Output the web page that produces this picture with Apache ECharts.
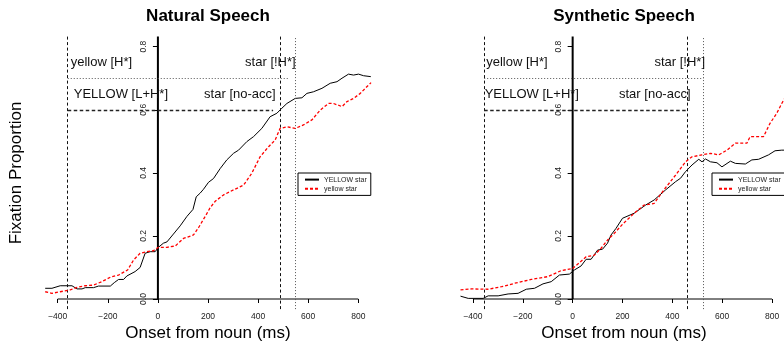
<!DOCTYPE html>
<html>
<head>
<meta charset="utf-8">
<script src="https://cdn.jsdelivr.net/npm/echarts@6/dist/echarts.min.js"></script>
<style>html,body{margin:0;padding:0;background:#fff;}#c{width:784px;height:342px;}</style>
</head>
<body>
<div id="c"></div>
<script>
// ---- data ----
const xTicks = [-400, -200, 0, 200, 400, 600, 800];
const yTicks = [0, 0.2, 0.4, 0.6, 0.8];
const xLim = [-448, 848];
const yLim = [-0.032, 0.832];
const seriesNames = ['YELLOW star', 'yellow star'];
const panelTitles = ['Natural Speech', 'Synthetic Speech'];
const xTitle = 'Onset from noun (ms)';
const yTitle = 'Fixation Proportion';

// Natural speech: YELLOW star (black) / yellow star (red)
const natYELLOW = [[-450,0.034],[-423,0.034],[-390,0.042],[-343,0.042],[-323,0.032],[-303,0.032],[-290,0.036],[-257,0.036],[-237,0.041],[-190,0.041],[-174,0.052],[-157,0.062],[-137,0.062],[-124,0.073],[-91,0.087],[-71,0.100],[-51,0.145],[-31,0.150],[-11,0.150],[2,0.164],[22,0.177],[36,0.181],[62,0.206],[89,0.232],[116,0.262],[140,0.284],[153,0.324],[169,0.336],[182,0.348],[202,0.370],[222,0.382],[249,0.414],[275,0.441],[302,0.462],[322,0.472],[355,0.499],[382,0.515],[415,0.541],[448,0.578],[475,0.589],[495,0.605],[515,0.620],[548,0.636],[575,0.638],[595,0.652],[621,0.657],[655,0.668],[688,0.684],[715,0.689],[735,0.700],[761,0.713],[781,0.710],[801,0.713],[821,0.708],[850,0.705]];
const natYellow = [[-450,0.023],[-423,0.018],[-390,0.023],[-350,0.029],[-323,0.037],[-290,0.042],[-257,0.044],[-224,0.055],[-190,0.069],[-157,0.076],[-121,0.092],[-97,0.124],[-71,0.145],[-44,0.150],[-18,0.153],[2,0.164],[36,0.164],[69,0.168],[102,0.192],[142,0.203],[162,0.226],[189,0.262],[209,0.290],[229,0.310],[262,0.330],[302,0.346],[342,0.361],[375,0.399],[408,0.451],[442,0.483],[468,0.504],[488,0.541],[515,0.546],[548,0.541],[581,0.552],[615,0.568],[648,0.599],[681,0.620],[701,0.620],[735,0.610],[755,0.626],[781,0.636],[808,0.652],[834,0.673],[851,0.686]];

// Synthetic speech
const synYELLOW = [[-450,0.009],[-419,0.002],[-359,0.002],[-339,0.010],[-299,0.010],[-259,0.016],[-219,0.018],[-186,0.031],[-153,0.034],[-119,0.048],[-86,0.055],[-53,0.076],[-13,0.079],[7,0.092],[34,0.105],[54,0.126],[74,0.126],[100,0.155],[120,0.158],[140,0.177],[154,0.203],[174,0.224],[200,0.256],[247,0.272],[293,0.298],[327,0.314],[373,0.346],[413,0.372],[433,0.383],[453,0.404],[479,0.425],[506,0.443],[519,0.435],[533,0.444],[553,0.435],[579,0.432],[599,0.419],[633,0.437],[653,0.430],[693,0.428],[719,0.441],[746,0.443],[786,0.457],[812,0.470],[839,0.472],[850,0.472]];
const synYellow = [[-450,0.029],[-405,0.032],[-339,0.031],[-285,0.039],[-232,0.050],[-166,0.062],[-99,0.071],[-46,0.090],[0,0.097],[27,0.115],[54,0.134],[87,0.139],[114,0.161],[140,0.187],[167,0.208],[200,0.237],[247,0.272],[287,0.298],[327,0.303],[366,0.346],[413,0.393],[453,0.435],[479,0.451],[519,0.457],[553,0.462],[586,0.457],[619,0.472],[653,0.494],[699,0.494],[712,0.515],[766,0.515],[792,0.557],[819,0.589],[839,0.620],[850,0.635]];

// reference lines (ms) and annotation anchors
const natVLines = [-360, 490, 550];
const synVLines = [-355, 460, 525];
const vLineTypes = ['dashed', 'dashed', 'dotted'];
const hLineY = [0.7, 0.6];
const hLineEnd = [525, 460];
const hLineTypes = ['dotted', 'dashed'];
const natLabelText = ['yellow [H*]', 'YELLOW [L+H*]', 'star [!H*]', 'star [no-acc]'];
const natLabelX = [-350, -338, 552, 472];
const synLabelX = [-349, -355, 533, 475];
const labelY = [0.75, 0.65, 0.75, 0.65];
const labelSide = ['left', 'left', 'right', 'right'];

// ---- chart ----
const FONT = '"Liberation Sans", Arial, Helvetica, sans-serif';
const chart = echarts.init(document.getElementById('c'), null, {renderer: 'canvas'});

const gridLefts = [45.7, 461];
const grids = gridLefts.map(l => ({left: l, top: 36.6, width: 324.6, height: 272.5, containLabel: false}));

function fmtX(v) { return v < 0 ? '\u2212' + (-v) : String(v); }

const xAxes = grids.map((g, i) => ({
  type: 'value', gridIndex: i, min: xLim[0], max: xLim[1],
  axisLine: {show: true, onZero: true, lineStyle: {color: '#000', opacity: 0}},
  axisTick: {show: true, customValues: xTicks, length: 4, lineStyle: {color: '#000', width: 1}},
  axisLabel: {show: true, customValues: xTicks, formatter: fmtX, margin: 3, fontSize: 8.5, color: '#222', fontFamily: FONT},
  splitLine: {show: false}
}));
const yAxes = grids.map((g, i) => ({
  type: 'value', gridIndex: i, min: yLim[0], max: yLim[1],
  axisLine: {show: true, onZero: true, lineStyle: {color: '#000', opacity: 0}},
  axisTick: {show: true, customValues: yTicks, length: 5, lineStyle: {color: '#000', width: 1}},
  axisLabel: {show: true, customValues: yTicks, formatter: v => v.toFixed(1), rotate: 90, margin: -102, fontSize: 8.5, color: '#222', fontFamily: FONT},
  splitLine: {show: false}
}));

function dashOf(t) { return t === 'dotted' ? [1, 2] : [3, 2.5]; }

function panelSeries(i, black, red, vLines, labelX) {
  const mlData = [];
  vLines.forEach((v, k) => mlData.push({xAxis: v, lineStyle: {type: dashOf(vLineTypes[k]), color: vLineTypes[k] === 'dotted' ? '#555' : '#111', width: 1}}));
  hLineY.forEach((y, k) => mlData.push([
    {coord: [vLines[0], y], lineStyle: {type: hLineTypes[k] === 'dotted' ? [1, 2] : [3.5, 2.5], color: hLineTypes[k] === 'dotted' ? '#555' : '#222', width: hLineTypes[k] === 'dotted' ? 1 : 1.3}},
    {coord: [hLineEnd[k], y]}
  ]));
  const mpData = natLabelText.map((t, k) => ({
    coord: [labelX[k], labelY[k]], value: t,
    label: {show: true, formatter: t, position: labelSide[k] === 'left' ? 'right' : 'left', distance: 0,
      fontSize: 13, color: '#111', fontFamily: FONT}
  }));
  return [
    { // x axis line spanning first to last tick, with reference lines and annotations
      type: 'line', xAxisIndex: i, yAxisIndex: i, data: [[xTicks[0], 0], [xTicks[xTicks.length - 1], 0]],
      symbol: 'none', silent: true, lineStyle: {color: '#000', width: 1}, z: 3,
      markLine: {symbol: ['none', 'none'], silent: true, animation: false, label: {show: false}, data: mlData},
      markPoint: {symbol: 'circle', symbolSize: 1, itemStyle: {color: 'rgba(0,0,0,0)'}, silent: true, animation: false, data: mpData}
    },
    { // vertical line at onset 0
      type: 'line', xAxisIndex: i, yAxisIndex: i, data: [[0, 0], [0, yLim[1]]],
      symbol: 'none', silent: true, lineStyle: {color: '#000', width: 2}, z: 3
    },
    {
      name: seriesNames[0], type: 'line', xAxisIndex: i, yAxisIndex: i, data: black,
      symbol: 'none', lineStyle: {color: '#000', width: 1}, itemStyle: {color: '#000'}, z: 4
    },
    {
      name: seriesNames[1], type: 'line', xAxisIndex: i, yAxisIndex: i, data: red,
      symbol: 'none', lineStyle: {color: '#ff0000', width: 1.3, type: [3, 2]}, itemStyle: {color: '#ff0000'}, z: 5
    }
  ];
}

const legendBase = {
  orient: 'vertical', top: 173, padding: [3, 4, 3, 6], itemGap: 2, itemWidth: 14, itemHeight: 9,
  borderColor: '#000', borderWidth: 1, backgroundColor: '#fff', selectedMode: false,
  itemStyle: {opacity: 0},
  textStyle: {fontSize: 7, color: '#222', fontFamily: FONT}, data: seriesNames
};

const titleCenters = [208, 624];
const graphics = [];
panelTitles.forEach((t, i) => {
  graphics.push({type: 'text', x: titleCenters[i], y: 16, style: {text: t, font: 'bold 17px ' + FONT, fill: '#000', align: 'center', verticalAlign: 'middle'}});
  graphics.push({type: 'text', x: titleCenters[i], y: 333, style: {text: xTitle, font: '17px ' + FONT, fill: '#000', align: 'center', verticalAlign: 'middle'}});
});
graphics.push({type: 'text', x: 16, y: 173, rotation: Math.PI / 2, style: {text: yTitle, font: '17px ' + FONT, fill: '#000', align: 'center', verticalAlign: 'middle'}});

chart.setOption({
  animation: false,
  backgroundColor: '#fff',
  grid: grids,
  xAxis: xAxes,
  yAxis: yAxes,
  legend: [Object.assign({left: 298}, legendBase), Object.assign({left: 712}, legendBase)],
  graphic: graphics,
  series: [].concat(panelSeries(0, natYELLOW, natYellow, natVLines, natLabelX), panelSeries(1, synYELLOW, synYellow, synVLines, synLabelX))
});
</script>
</body>
</html>
